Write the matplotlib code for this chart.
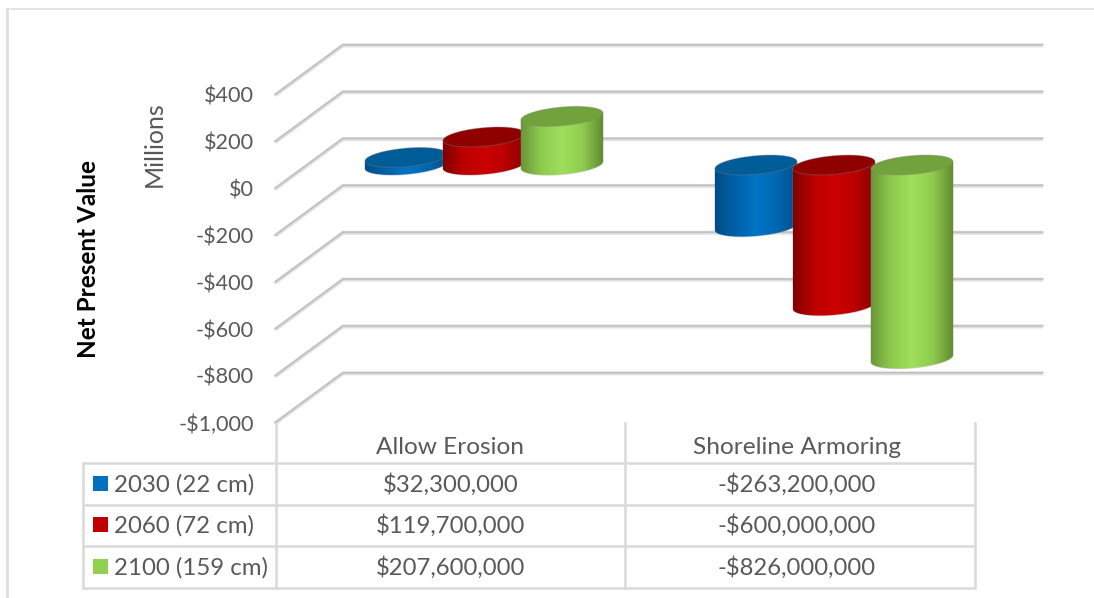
import numpy as np
import matplotlib
matplotlib.use('Agg')
import matplotlib.pyplot as plt
from matplotlib.colors import LinearSegmentedColormap
from matplotlib.patches import Polygon, Rectangle

plt.rcParams['font.family'] = ['Lato', 'DejaVu Sans']

categories = ['Allow Erosion', 'Shoreline Armoring']
series_names = ['2030 (22 cm)', '2060 (72 cm)', '2100 (159 cm)']
values_2030 = [32300000, -263200000]
values_2060 = [119700000, -600000000]
values_2100 = [207600000, -826000000]
ticks = [400, 200, 0, -200, -400, -600, -800, -1000]

swatches = ['#0070C0', '#C00000', '#92D050']
top_colors = ['#005C97', '#8E0000', '#72A23C']
body_colors = [
    ['#004C85', '#0062A8', '#0074C6', '#0068B0', '#004F8A'],
    ['#7E0000', '#BC0000', '#CC0000', '#BC0000', '#8A0000'],
    ['#6A9638', '#8FCB4E', '#9EDF5C', '#90CC4E', '#628C30'],
]
GREY = '#595959'
LINE = '#D9D9D9'
HALO = (0.5, 0.5, 0.5, 0.35)

W, H = 1094, 598
CAT_PX = 350.0    # pixels per category
LEFT_PX = 275.0   # left end of the front plane
VAL_PX = 0.2343   # pixels per million
ZERO_PX = 189.0   # front plane height of $0
DEPTH_X = 68 / CAT_PX
DEPTH_Y = 50 / VAL_PX
BAR_STEP = 78 / CAT_PX
BAR_A = 41 / CAT_PX
BAR_B = 9.3 / VAL_PX
BAR_TILT = 3.5 / VAL_PX
BAR_SHIFT = 1 / VAL_PX

fig = plt.figure(figsize=(W / 100, H / 100), dpi=100)
ax = fig.add_axes([0, 0, 1, 1])
ax.set_xlim(-LEFT_PX / CAT_PX, (W - LEFT_PX) / CAT_PX)
ax.set_ylim((ZERO_PX - H) / VAL_PX, ZERO_PX / VAL_PX)
ax.set_autoscale_on(False)
ax.axis('off')

# pixel overlay for the border and the data table
over = fig.add_axes([0, 0, 1, 1], zorder=-1)
over.set_xlim(0, W)
over.set_ylim(H, 0)
over.axis('off')

# frame
over.plot([7, 1094], [9, 9], color='#E0E0E0', lw=1.2)
over.plot([7, 7], [9, 598], color='#DEDEDE', lw=2)

# walls and gridlines
n_cat = len(categories)
for t in ticks:
    x = [0, DEPTH_X, n_cat + DEPTH_X]
    y = [t, t + DEPTH_Y, t + DEPTH_Y]
    ax.plot(x, y, color='#DDDDDD', lw=2.8, solid_capstyle='butt', solid_joinstyle='round', zorder=1)
    ax.plot(x, [v + 2.5 for v in y], color='#BDBDBD', lw=1.0, zorder=1.1)
    ax.text(-21 / CAT_PX, t - 1.5 / VAL_PX, f'${t:,}' if t >= 0 else f'-${-t:,}', ha='right', va='center',
            fontsize=15.6, color=GREY)


def ellipse(cx, cy, t):
    return cx + BAR_A * np.cos(t), cy + BAR_B * np.sin(t) + BAR_TILT * np.cos(t)


def cylinder(cx, low, high, i, z):
    # side of the cylinder, then the cap
    t = np.linspace(np.pi, 2 * np.pi, 60)
    xs, ys = ellipse(cx, low, t)
    xt, yt = ellipse(cx, high, np.array([0.0, np.pi]))
    body = Polygon(np.column_stack([np.r_[xs, xt], np.r_[ys, yt]]), closed=True,
                   facecolor='none', edgecolor=HALO, lw=1, zorder=z)
    ax.add_patch(body)
    cmap = LinearSegmentedColormap.from_list('c', body_colors[i])
    im = ax.imshow(np.linspace(0, 1, 256)[None, :], cmap=cmap, aspect='auto',
                   extent=[cx - BAR_A, cx + BAR_A, low - 2 * BAR_B, high + 2 * BAR_B],
                   zorder=z, interpolation='bilinear')
    im.set_clip_path(body)
    t = np.linspace(0, 2 * np.pi, 120)
    xc, yc = ellipse(cx, high, t)
    ax.add_patch(Polygon(np.column_stack([xc, yc]), closed=True, facecolor=top_colors[i],
                         edgecolor=HALO, lw=0.8, zorder=z + 0.1))


series = [values_2030, values_2060, values_2100]
for i, vals in enumerate(series):
    for c, v in enumerate(vals):
        m = v / 1e6
        cx = c + 0.5 + DEPTH_X / 2 + (i - 1) * BAR_STEP
        base = DEPTH_Y / 2 - BAR_SHIFT
        cylinder(cx, base + min(m, 0), base + max(m, 0), i, 3 + i)

# axis titles
over.text(88, 259, 'Net Present Value', rotation=90, ha='center', va='center',
          fontsize=17.5, fontweight='bold', color='black')
over.text(154, 144, 'Millions', rotation=90, ha='center', va='center', fontsize=18, color=GREY)

# data table
table_x = [83, 276, 625, 975]
table_y = [463, 505, 546, 588]
for y in table_y:
    over.plot([table_x[0], table_x[-1]], [y, y], color=LINE, lw=1.8, solid_capstyle='butt')
over.plot([table_x[0]] * 2, [table_y[0], table_y[-1]], color=LINE, lw=1.8)
for x in table_x[1:]:
    over.plot([x, x], [423, table_y[-1]], color=LINE, lw=1.8)

col_x = [450.5, 797]
for x, name in zip(col_x, categories):
    over.text(x, 448, name, ha='center', va='center', fontsize=17.6, color=GREY)

row_y = [485, 526, 568]
for i, (y, name, vals) in enumerate(zip(row_y, series_names, series)):
    over.add_patch(Rectangle((93, y - 9), 15, 15, facecolor=swatches[i], edgecolor='none'))
    over.text(114, y, name, ha='left', va='center', fontsize=17.3, color=GREY)
    for x, v in zip(col_x, vals):
        over.text(x, y, f'${v:,}' if v >= 0 else f'-${-v:,}', ha='center', va='center',
                  fontsize=17.2, color=GREY)

fig.savefig('out.png', dpi=100, facecolor='white')
